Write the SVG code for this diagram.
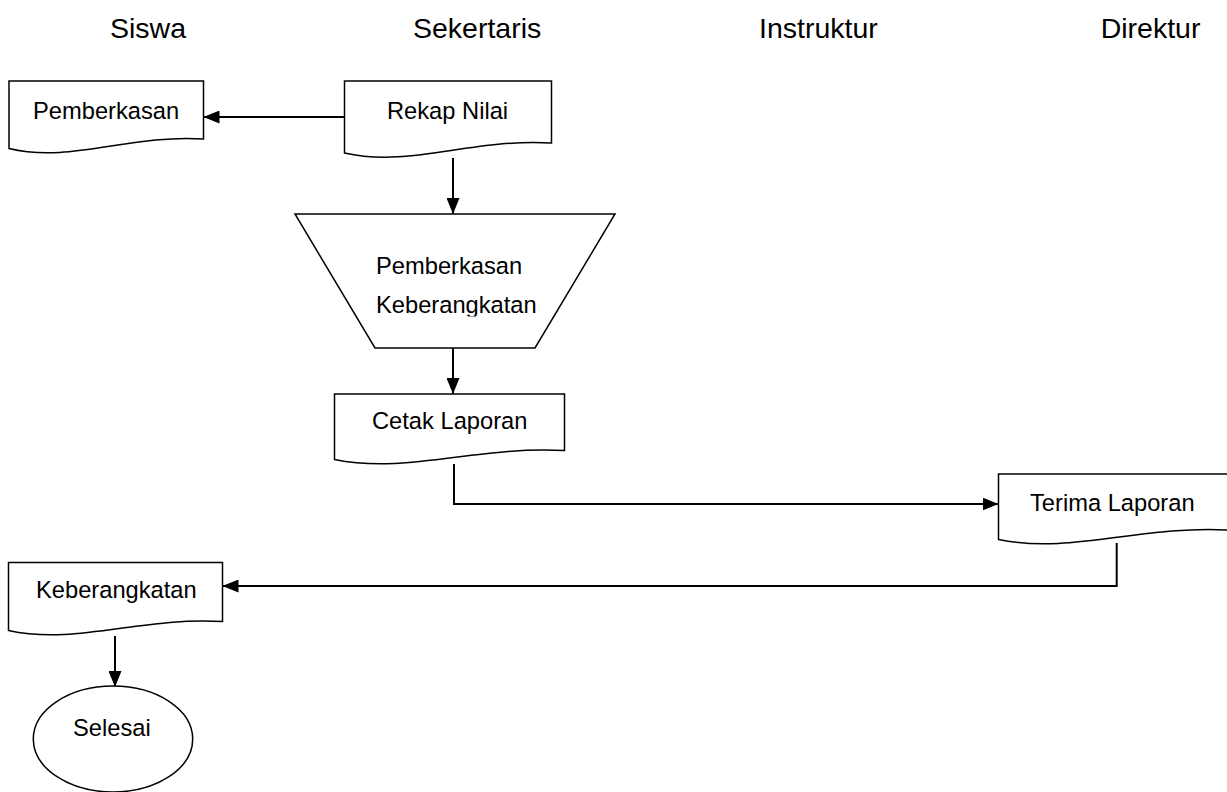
<svg xmlns="http://www.w3.org/2000/svg" width="1227" height="792" viewBox="0 0 1227 792">
<style>
.shape{fill:#fff;stroke:#000;stroke-width:1.5}
.conn{fill:none;stroke:#000;stroke-width:2}
.t{font-family:"Liberation Sans",Arial,sans-serif;font-size:23.7px;fill:#000}
.h{font-family:"Liberation Sans",Arial,sans-serif;font-size:28.5px;fill:#000}
</style>
<defs>
<marker id="arr" markerUnits="userSpaceOnUse" markerWidth="16" markerHeight="13" refX="16" refY="6.5" orient="auto">
<path d="M0,0 L16,6.5 L0,13 Z" fill="#000"/>
</marker>
<clipPath id="trapclip"><rect x="290" y="214" width="330" height="102.5"/></clipPath>
</defs>
<rect width="1227" height="792" fill="#fff"/>
<g id="lanes">
<text class="h" x="110" y="38">Siswa</text>
<text class="h" x="413" y="38">Sekertaris</text>
<text class="h" x="759" y="38">Instruktur</text>
<text class="h" x="1100.7" y="38">Direktur</text>
</g>
<g id="connectors">
<path class="conn" d="M344.5,117 H203.5" marker-end="url(#arr)"/>
<path class="conn" d="M453,158 V214" marker-end="url(#arr)"/>
<path class="conn" d="M453,348 V394" marker-end="url(#arr)"/>
<path class="conn" d="M454,464 V504 H998.5" marker-end="url(#arr)"/>
<path class="conn" d="M1116.7,543 V586 H222.5" marker-end="url(#arr)"/>
<path class="conn" d="M115,636 V687" marker-end="url(#arr)"/>
</g>
<g id="pemberkasan">
<path class="shape" d="M9,81 H203.5 V139 C129.6,134 70.5,163.5 9,148.5 Z"/>
<text class="t" x="33" y="119">Pemberkasan</text>
</g>
<g id="rekap-nilai">
<path class="shape" d="M344.5,81 H551.5 V143 C472.8,138 409.9,168 344.5,153 Z"/>
<text class="t" x="387" y="119">Rekap Nilai</text>
</g>
<g id="pemberkasan-keberangkatan">
<path class="shape" d="M295,214 H615 L535,348 H375 Z"/>
<g clip-path="url(#trapclip)">
<text class="t" x="376" y="274">Pemberkasan</text>
<text class="t" x="376" y="313">Keberangkatan</text>
</g>
</g>
<g id="cetak-laporan">
<path class="shape" d="M334.5,394 H564.5 V450.5 C477.1,445.5 407.2,474.5 334.5,459.5 Z"/>
<text class="t" x="372" y="429">Cetak Laporan</text>
</g>
<g id="terima-laporan">
<path class="shape" d="M998.5,474 H1228.5 V530 C1141.1,525 1071.2,554.5 998.5,539.5 Z"/>
<text class="t" x="1030" y="511">Terima Laporan</text>
</g>
<g id="keberangkatan">
<path class="shape" d="M8.5,562.5 H222.5 V621.5 C141.2,616.5 76.1,645.5 8.5,630.5 Z"/>
<text class="t" x="36" y="598">Keberangkatan</text>
</g>
<g id="selesai">
<ellipse class="shape" cx="113" cy="739" rx="79.7" ry="53"/>
<text class="t" x="73" y="736">Selesai</text>
</g>
</svg>
